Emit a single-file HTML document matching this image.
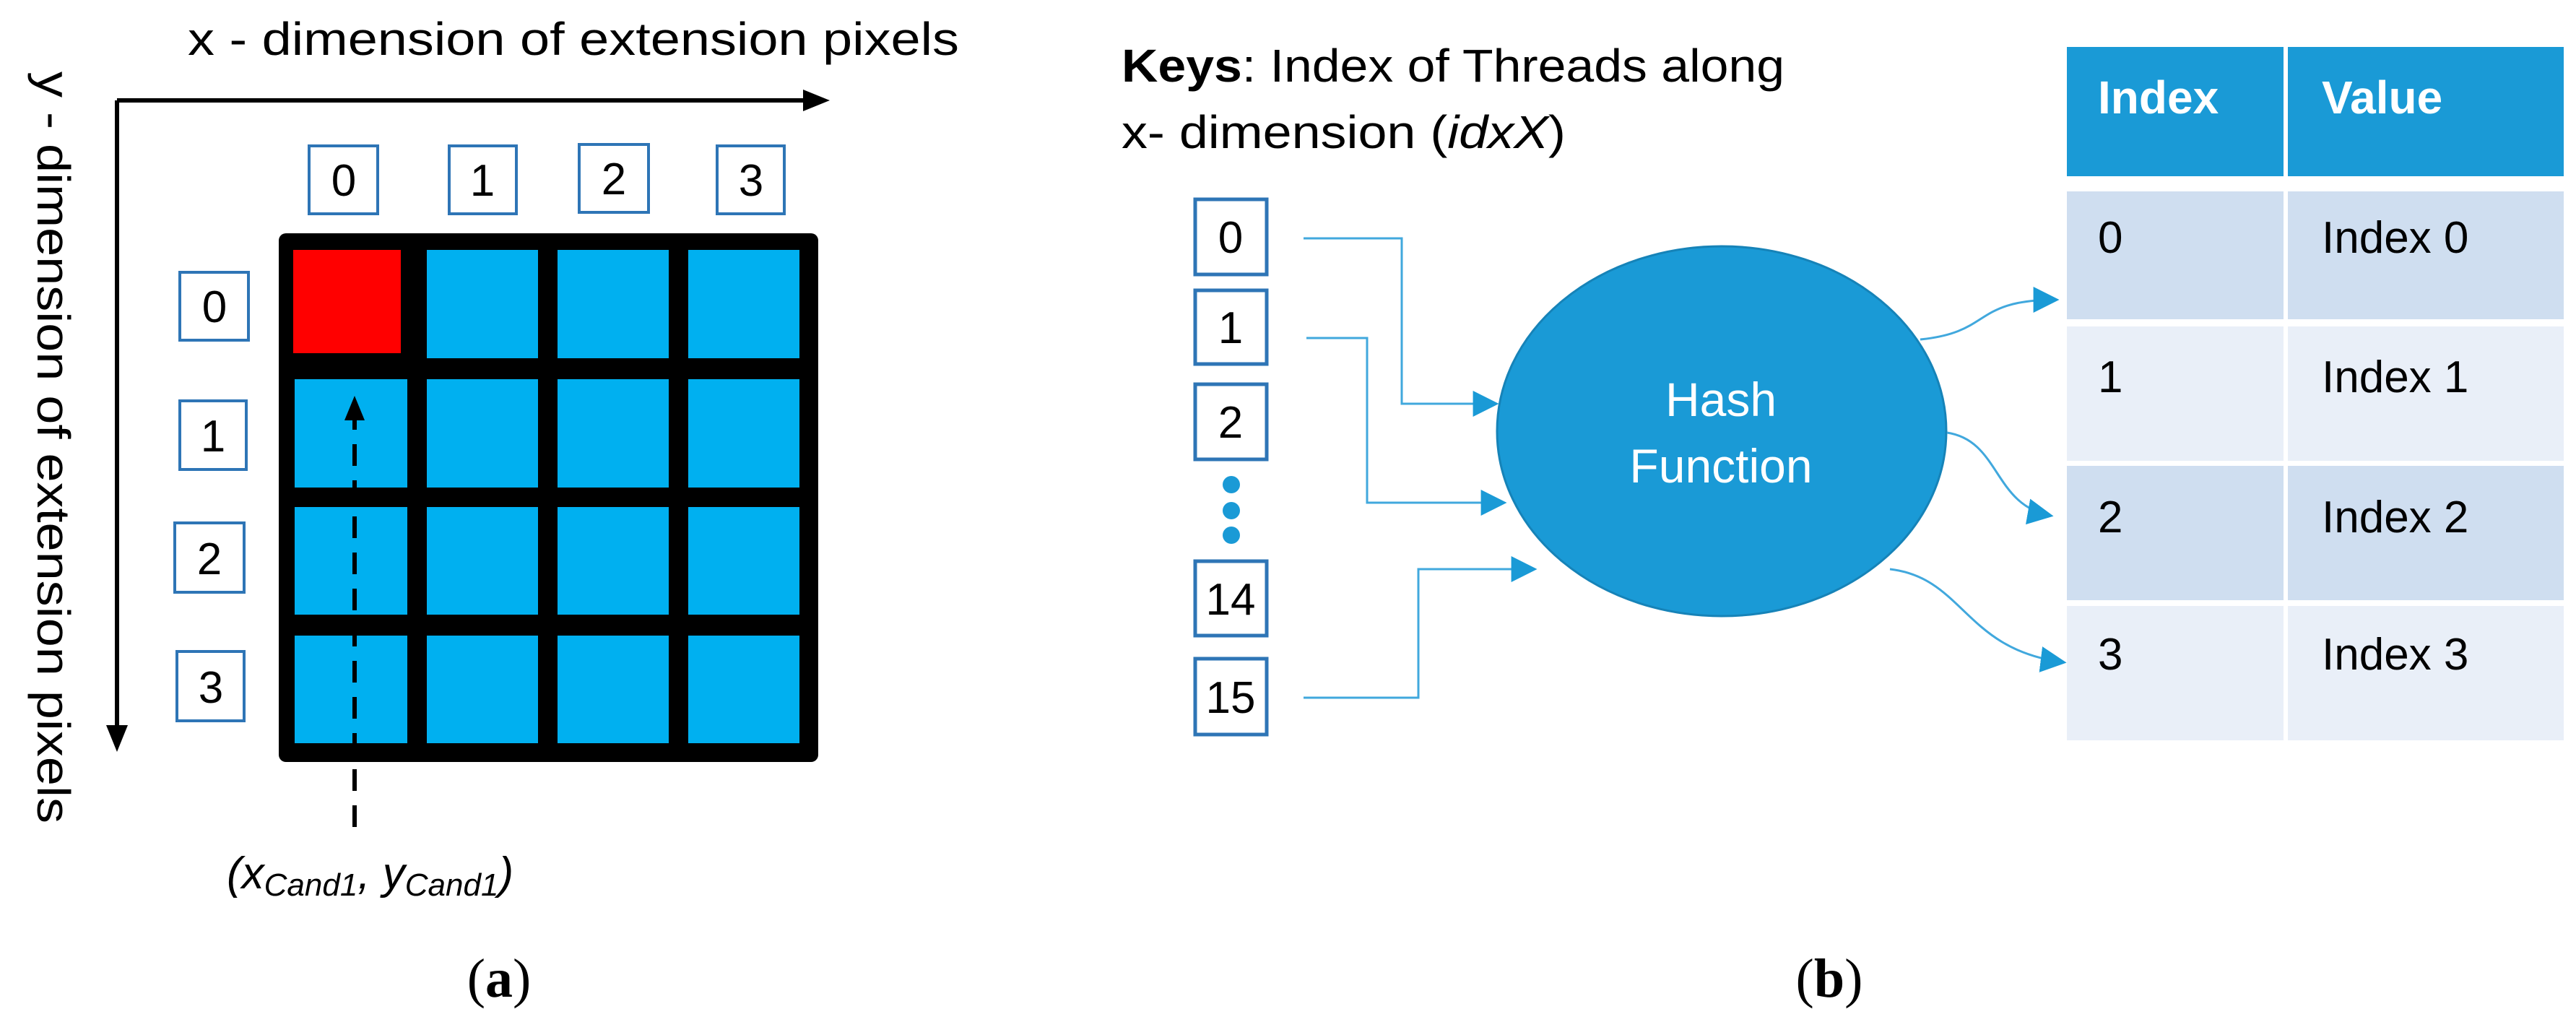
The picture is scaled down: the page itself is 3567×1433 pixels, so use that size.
<!DOCTYPE html>
<html><head><meta charset="utf-8"><style>html,body{margin:0;padding:0;background:#fff}svg{display:block}</style></head>
<body>
<svg width="3567" height="1433" viewBox="0 0 3567 1433" xmlns="http://www.w3.org/2000/svg" font-family="Liberation Sans, sans-serif">
<defs>
<marker id="ab" viewBox="0 0 10 10" refX="9" refY="5" markerWidth="8" markerHeight="8" markerUnits="userSpaceOnUse" orient="auto"><path d="M0,0 L10,5 L0,10 z" fill="#000"/></marker>
<marker id="ac" viewBox="0 0 10 10" refX="9" refY="5" markerWidth="12" markerHeight="12" orient="auto"><path d="M0,0 L10,5 L0,10 z" fill="#1a9ad6"/></marker>
</defs>
<!-- Panel a -->
<text x="260" y="76" font-size="64" textLength="1068" lengthAdjust="spacingAndGlyphs">x - dimension of extension pixels</text>
<line x1="162" y1="139" x2="1120" y2="139" stroke="#000" stroke-width="6"/>
<path d="M1149,139 L1112,124 L1112,154 z" fill="#000"/>
<line x1="162" y1="139" x2="162" y2="1012" stroke="#000" stroke-width="6"/>
<path d="M162,1041 L147,1004 L177,1004 z" fill="#000"/>
<text transform="translate(52,99) rotate(90)" font-size="64" textLength="1041" lengthAdjust="spacingAndGlyphs">y - dimension of extension pixels</text>
<rect x="386" y="323" width="747" height="732" rx="10" fill="#000"/>
<g fill="#00b0f0">
<rect x="591" y="346" width="154" height="150"/><rect x="772" y="346" width="154" height="150"/><rect x="953" y="346" width="154" height="150"/>
<rect x="408" y="525" width="156" height="150"/><rect x="591" y="525" width="154" height="150"/><rect x="772" y="525" width="154" height="150"/><rect x="953" y="525" width="154" height="150"/>
<rect x="408" y="702" width="156" height="149"/><rect x="591" y="702" width="154" height="149"/><rect x="772" y="702" width="154" height="149"/><rect x="953" y="702" width="154" height="149"/>
<rect x="408" y="880" width="156" height="149"/><rect x="591" y="880" width="154" height="149"/><rect x="772" y="880" width="154" height="149"/><rect x="953" y="880" width="154" height="149"/>
</g>
<rect x="406" y="346" width="149" height="143" fill="#ff0000"/>
<g fill="#fff" stroke="#2e75b6" stroke-width="4">
<rect x="428" y="202" width="95" height="94"/><rect x="622" y="202" width="93" height="94"/><rect x="802" y="200" width="96" height="94"/><rect x="993" y="202" width="93" height="94"/>
<rect x="249" y="377" width="95" height="94"/><rect x="249" y="555" width="92" height="95"/><rect x="242" y="724" width="96" height="96"/><rect x="245" y="902" width="93" height="96"/>
</g>
<g font-size="62" text-anchor="middle">
<text x="476" y="271">0</text><text x="668" y="271">1</text><text x="850" y="269">2</text><text x="1040" y="271">3</text>
<text x="297" y="446">0</text><text x="295" y="625">1</text><text x="290" y="795">2</text><text x="292" y="973">3</text>
</g>
<line x1="491" y1="1145" x2="491" y2="578" stroke="#000" stroke-width="6" stroke-dasharray="30,20"/>
<path d="M491,548 L477,582 L505,582 z" fill="#000"/>
<text x="314" y="1230" font-size="62" font-style="italic">(x<tspan font-size="44" dy="10">Cand1</tspan><tspan dy="-10">, y</tspan><tspan font-size="44" dy="10">Cand1</tspan><tspan dy="-10">)</tspan></text>
<text x="691" y="1380" font-size="76" text-anchor="middle" font-family="Liberation Serif, serif">(<tspan font-weight="bold">a</tspan>)</text>
<!-- Panel b -->
<text x="1553" y="113" font-size="64" textLength="918" lengthAdjust="spacingAndGlyphs"><tspan font-weight="bold">Keys</tspan>: Index of Threads along</text>
<text x="1553" y="205" font-size="64" textLength="615" lengthAdjust="spacingAndGlyphs">x- dimension (<tspan font-style="italic">idxX</tspan>)</text>
<rect x="2862" y="65" width="300" height="179" fill="#1a9ad6"/><rect x="3168" y="65" width="382" height="179" fill="#1a9ad6"/>
<rect x="2862" y="265" width="300" height="177" fill="#cfdef0"/><rect x="3168" y="265" width="382" height="177" fill="#cfdef0"/>
<rect x="2862" y="452" width="300" height="186" fill="#e9eff8"/><rect x="3168" y="452" width="382" height="186" fill="#e9eff8"/>
<rect x="2862" y="645" width="300" height="186" fill="#cfdef0"/><rect x="3168" y="645" width="382" height="186" fill="#cfdef0"/>
<rect x="2862" y="839" width="300" height="186" fill="#e9eff8"/><rect x="3168" y="839" width="382" height="186" fill="#e9eff8"/>
<g font-size="64" fill="#fff" font-weight="bold"><text x="2905" y="157">Index</text><text x="3215" y="157">Value</text></g>
<g font-size="62" fill="#000">
<text x="2905" y="350">0</text><text x="3215" y="350">Index 0</text>
<text x="2905" y="543">1</text><text x="3215" y="543">Index 1</text>
<text x="2905" y="737">2</text><text x="3215" y="737">Index 2</text>
<text x="2905" y="927">3</text><text x="3215" y="927">Index 3</text>
</g>
<g fill="#fff" stroke="#2e75b6" stroke-width="5">
<rect x="1655" y="276" width="99" height="104"/><rect x="1655" y="402" width="99" height="102"/><rect x="1655" y="532" width="99" height="104"/>
<rect x="1655" y="777" width="99" height="103"/><rect x="1655" y="912" width="99" height="105"/>
</g>
<g fill="#1a9ad6"><circle cx="1705" cy="671" r="12"/><circle cx="1705" cy="707" r="12"/><circle cx="1705" cy="741" r="12"/></g>
<g font-size="62" text-anchor="middle">
<text x="1704" y="350">0</text><text x="1704" y="475">1</text><text x="1704" y="606">2</text><text x="1704" y="851">14</text><text x="1704" y="987">15</text>
</g>
<ellipse cx="2384" cy="597" rx="311" ry="256" fill="#1a9ad6" stroke="#1683b8" stroke-width="3"/>
<g font-size="66" fill="#fff" text-anchor="middle"><text x="2383" y="576">Hash</text><text x="2383" y="668">Function</text></g>
<g fill="none" stroke="#41a8dd" stroke-width="3" marker-end="url(#ac)">
<path d="M1805,330 H1941 V559 H2072"/>
<path d="M1809,468 H1893 V696 H2083"/>
<path d="M1805,966 H1964 V788 H2125"/>
<path d="M2659,470 C2760,460 2730,415 2848,415"/>
<path d="M2696,599 C2770,610 2760,700 2840,714"/>
<path d="M2617,788 C2720,800 2720,900 2858,917"/>
</g>
<text x="2533" y="1380" font-size="76" text-anchor="middle" font-family="Liberation Serif, serif">(<tspan font-weight="bold">b</tspan>)</text>
</svg>
</body></html>
